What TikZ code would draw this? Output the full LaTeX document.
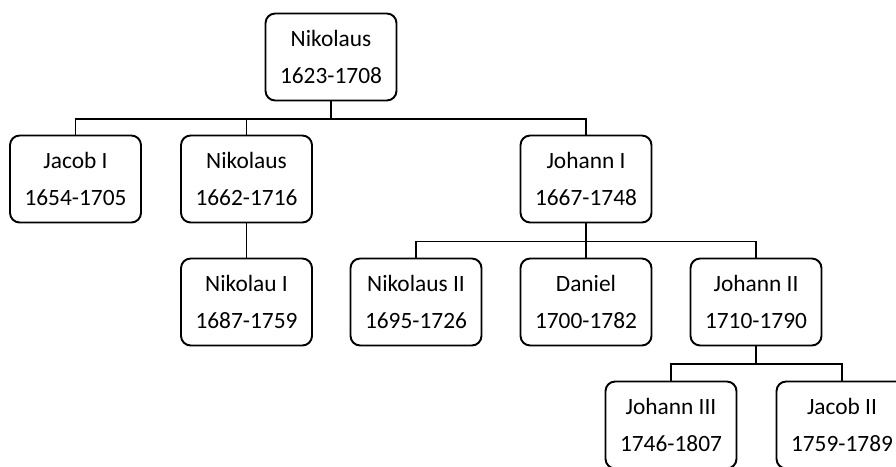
\documentclass[tikz,border=0pt]{standalone}
\usepackage{fontspec}
\setmainfont{Carlito}
\usetikzlibrary{positioning}

\begin{document}
\begin{tikzpicture}[every node/.style={font=\fontsize{13.3}{21}\selectfont},
  person/.style={draw,line width=1.1pt,rounded corners=5.5pt,minimum width=2.62cm,minimum height=1.74cm,align=center,inner sep=0pt},
  link/.style={line width=1.1pt}]
\clip (0,0) rectangle (17.92,-9.32);
% generation 1
\node[person] (root) at (6.62,-1.14) {Nikolaus\\1623-1708};
% generation 2
\node[person] (jacobI) at (1.51,-3.58) {Jacob I\\1654-1705};
\node[person] (nikolausA) at (4.93,-3.58) {Nikolaus\\1662-1716};
\node[person] (johannI) at (11.72,-3.58) {Johann I\\1667-1748};
% generation 3
\node[person] (nikolauI) at (4.93,-6.04) {Nikolau I\\1687-1759};
\node[person] (nikolausII) at (8.32,-6.04) {Nikolaus II\\1695-1726};
\node[person] (daniel) at (11.72,-6.04) {Daniel\\1700-1782};
\node[person] (johannII) at (15.12,-6.04) {Johann II\\1710-1790};
% generation 4
\node[person] (johannIII) at (13.42,-8.50) {Johann III\\1746-1807};
\node[person] (jacobII) at (16.84,-8.50) {Jacob II\\1759-1789};
% links
\draw[link] (root.south) -- ++(0,-0.35) -| (jacobI.north);
\draw[link] (root.south) -- ++(0,-0.35) -| (nikolausA.north);
\draw[link] (root.south) -- ++(0,-0.35) -| (johannI.north);
\draw[link] (nikolausA.south) -- (nikolauI.north);
\draw[link] (johannI.south) -- ++(0,-0.36) -| (nikolausII.north);
\draw[link] (johannI.south) -- (daniel.north);
\draw[link] (johannI.south) -- ++(0,-0.36) -| (johannII.north);
\draw[link] (johannII.south) -- ++(0,-0.35) -| (johannIII.north);
\draw[link] (johannII.south) -- ++(0,-0.35) -| (jacobII.north);
\end{tikzpicture}
\end{document}
